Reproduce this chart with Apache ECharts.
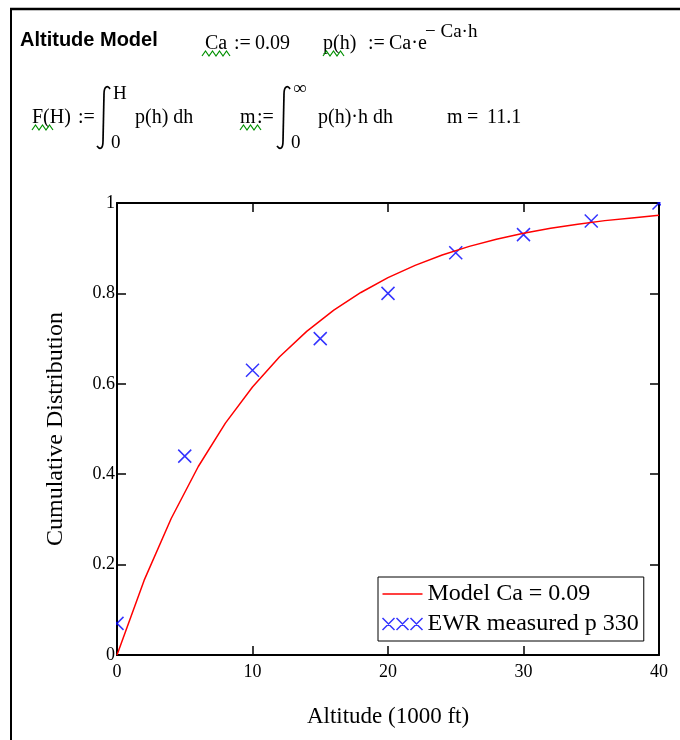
<!DOCTYPE html>
<html>
<head>
<meta charset="utf-8">
<script src="https://cdn.jsdelivr.net/npm/echarts@6/dist/echarts.min.js"></script>
<style>html,body{margin:0;padding:0;background:#fff}#c{width:680px;height:740px}</style>
</head>
<body>
<div id="c"></div>
<script>
// ---- data ----
const modelName = 'Model Ca = 0.09';
const measuredName = 'EWR measured p 330';
const modelAltitude = [0,2,4,6,8,10,12,14,16,18,20,22,24,26,28,30,32,34,36,38,40];
const modelCDF = [0,0.165,0.302,0.417,0.513,0.593,0.660,0.716,0.763,0.802,0.835,0.862,0.885,0.904,0.920,0.933,0.944,0.953,0.961,0.967,0.973];
const measuredAltitude = [0,5,10,15,20,25,30,35,40];
const measuredCDF = [0.07,0.44,0.63,0.70,0.80,0.89,0.93,0.96,1.00];
const xTickRange = {min:0, max:40, interval:10};
const yTickRange = {min:0, max:1, interval:0.2};
const xTitle = 'Altitude (1000 ft)';
const yTitle = 'Cumulative Distribution';

const serif = 'Liberation Serif';
const chart = echarts.init(document.getElementById('c'));

function squiggle(x0, x1, y) {
  const pts = []; let up = false;
  for (let x = x0; x <= x1 + 0.1; x += 3.5) { pts.push([x, up ? y : y + 5]); up = !up; }
  return {type:'polyline', shape:{points:pts}, style:{stroke:'#009000', lineWidth:1.2, fill:null}, z:10};
}
function txt(x, y, s, size, extra) {
  return {type:'text', x:x, y:y, z:10,
    style:Object.assign({text:s, fontFamily:serif, fontSize:size||20, fill:'#000', textVerticalAlign:'middle'}, extra||{})};
}
function integral(x, yTop, yBot) {
  const st = {stroke:'#000', lineWidth:1.7, fill:null};
  return {type:'group', children:[
    {type:'bezierCurve', shape:{x1:x+9, y1:yTop+3, cpx1:x+7, cpy1:yTop-1, cpx2:x+3, cpy2:yTop, x2:x+3, y2:yTop+8}, style:st, z:10},
    {type:'line', shape:{x1:x+3, y1:yTop+8, x2:x+2, y2:yBot-8}, style:st, z:10},
    {type:'bezierCurve', shape:{x1:x+2, y1:yBot-8, cpx1:x+2, cpy1:yBot, cpx2:x-1, cpy2:yBot+1, x2:x-4, y2:yBot-3}, style:st, z:10}
  ]};
}
function mask(x, y, w, h) {
  return {type:'rect', shape:{x:x, y:y, width:w, height:h}, style:{fill:'#fff'}, z:100, silent:true};
}

const header = [
  {type:'line', shape:{x1:10, y1:9, x2:680, y2:9}, style:{stroke:'#000', lineWidth:2.5}},
  {type:'line', shape:{x1:11, y1:8, x2:11, y2:740}, style:{stroke:'#000', lineWidth:2}},
  txt(20, 40, 'Altitude Model', 20, {fontFamily:'Liberation Sans', fontWeight:'bold'}),
  txt(205, 44, 'Ca', 20), txt(234, 44, ':=', 20), txt(255, 44, '0.09', 20),
  squiggle(202, 233, 51),
  txt(323, 44, 'p(h)', 20), txt(368, 44, ':=', 20), txt(389, 44, 'Ca\u00b7e', 20),
  txt(425, 32, '\u2212 Ca\u00b7h', 19),
  squiggle(323, 344, 51),
  txt(32, 118, 'F(H)', 20), txt(78, 118, ':=', 20),
  integral(101, 86, 149),
  txt(113, 94, 'H', 19), txt(111, 143, '0', 19),
  txt(135, 118, 'p(h) dh', 20),
  squiggle(32, 53, 125),
  txt(240, 118, 'm', 20), txt(257, 118, ':=', 20),
  integral(281, 86, 149),
  txt(293, 89, '\u221e', 19), txt(291, 143, '0', 19),
  txt(318, 118, 'p(h)\u00b7h dh', 20),
  squiggle(240, 261, 125),
  txt(447, 118, 'm', 20), txt(467, 118, '=', 20), txt(487, 118, '11.1', 20),
  // markers are clipped at the plot frame in the original
  mask(96, 608, 20, 30),
  mask(640, 186, 40, 16),
  mask(661, 186, 19, 40)
];

const axisLine = {show:true, onZero:false, lineStyle:{color:'#000', width:2}};
const axisTick = {show:true, inside:true, length:9, lineStyle:{color:'#000', width:1.5}};
const labelStyle = {color:'#000', fontFamily:serif, fontSize:18};

chart.setOption({
  animation:false,
  backgroundColor:'#fff',
  grid:{left:117, right:21, top:203, bottom:85, containLabel:false},
  graphic:header,
  legend:{
    orient:'vertical', left:378, top:577,
    borderColor:'#000', borderWidth:1, padding:[5,5,5,2], itemGap:6,
    itemWidth:40, itemHeight:13, backgroundColor:'#fff', symbolKeepAspect:true,
    textStyle:{color:'#000', fontFamily:serif, fontSize:24},
    data:[
      {name:modelName, icon:'path://M0,0L40,0L40,1.6L0,1.6Z', itemStyle:{color:'#ff0000', borderWidth:0}},
      {name:measuredName, icon:'path://M0,0L12,12M12,0L0,12M14,0L26,12M26,0L14,12M28,0L40,12M40,0L28,12',
        itemStyle:{color:'none', borderColor:'#0000ff', borderWidth:1.5}}
    ]
  },
  xAxis:[
    Object.assign({type:'value', position:'bottom', name:xTitle, nameLocation:'middle', nameGap:50,
      nameTextStyle:{color:'#000', fontFamily:serif, fontSize:23},
      axisLine:axisLine, axisTick:axisTick, splitLine:{show:false},
      axisLabel:Object.assign({margin:8}, labelStyle)}, xTickRange),
    Object.assign({type:'value', position:'top', axisLine:axisLine, axisTick:axisTick, splitLine:{show:false}, axisLabel:{show:false}}, xTickRange)
  ],
  yAxis:[
    Object.assign({type:'value', position:'left', name:yTitle, nameLocation:'middle', nameGap:49, nameRotate:90,
      nameTextStyle:{color:'#000', fontFamily:serif, fontSize:24},
      axisLine:axisLine, axisTick:axisTick, splitLine:{show:false},
      axisLabel:Object.assign({margin:2}, labelStyle)}, yTickRange),
    Object.assign({type:'value', position:'right', axisLine:axisLine, axisTick:axisTick, splitLine:{show:false}, axisLabel:{show:false}}, yTickRange)
  ],
  series:[
    {name:modelName, type:'line', xAxisIndex:0, yAxisIndex:0, symbol:'none', smooth:false,
      lineStyle:{color:'#ff0000', width:1.5}, itemStyle:{color:'#ff0000'},
      data:modelAltitude.map((a,i)=>[a, modelCDF[i]])},
    {name:measuredName, type:'scatter', xAxisIndex:0, yAxisIndex:0, clip:true,
      symbol:'path://M0,0L10,10M10,0L0,10', symbolSize:13,
      itemStyle:{color:'none', borderColor:'#0000ff', borderWidth:1.5},
      data:measuredAltitude.map((a,i)=>[a, measuredCDF[i]])}
  ]
});
</script>
</body>
</html>
